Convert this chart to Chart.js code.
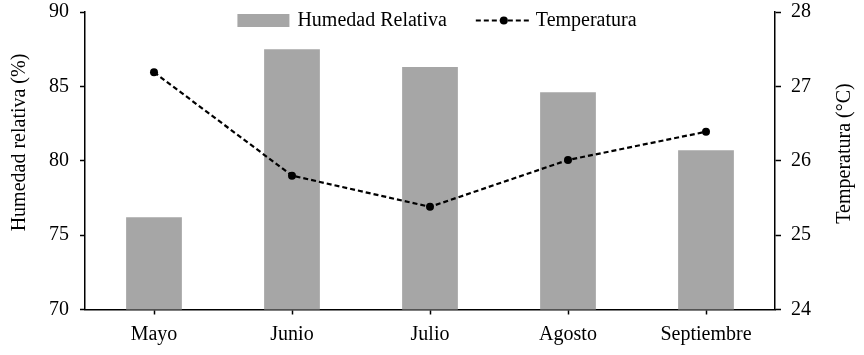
<!DOCTYPE html>
<html><head><meta charset="utf-8">
<style>html,body{margin:0;padding:0;background:#fff}#wrap{width:864px;height:355px}</style>
<script src="https://cdn.jsdelivr.net/npm/chart.js@4.4.1/dist/chart.umd.min.js"></script>
</head><body><div id="wrap"><canvas id="c" width="864" height="355"></canvas></div>
<script>
const categories = ['Mayo', 'Junio', 'Julio', 'Agosto', 'Septiembre'];
const humedad = [76.2, 87.5, 86.3, 84.6, 80.7];
const temperatura = [27.19, 25.80, 25.38, 26.01, 26.39];
const humLabel = 'Humedad Relativa';
const tempLabel = 'Temperatura';
const leftTitle = 'Humedad relativa (%)';
const rightTitle = 'Temperatura (°C)';

const FAMILY = '"Liberation Serif", "Times New Roman", serif';
const FSIZE = 20;
const FONT = FSIZE + 'px ' + FAMILY;
const BAR = '#a6a6a6';

const overlay = {
  id: 'overlay',
  afterDraw(chart) {
    const ctx = chart.ctx, ca = chart.chartArea;
    const ds = chart.data.datasets;
    ctx.save();
    ctx.font = FONT;
    ctx.fillStyle = '#000';
    ctx.textBaseline = 'middle';
    // legend
    const w1 = ctx.measureText(ds[0].label).width;
    const w2 = ctx.measureText(ds[1].label).width;
    const boxW = 52, boxH = 13, g1 = 8, gItems = 29, lineW = 56, g2 = 4;
    const total = boxW + g1 + w1 + gItems + lineW + g2 + w2;
    let x = (ca.left + ca.right) / 2 + 7 - total / 2;
    const yc = ca.top + 8.5;
    ctx.fillStyle = ds[0].backgroundColor;
    ctx.fillRect(x, yc - boxH / 2, boxW, boxH);
    x += boxW + g1;
    ctx.fillStyle = '#000';
    ctx.textAlign = 'left';
    ctx.fillText(ds[0].label, x, yc);
    x += w1 + gItems;
    ctx.strokeStyle = ds[1].borderColor;
    ctx.lineWidth = ds[1].borderWidth;
    ctx.setLineDash(ds[1].borderDash);
    ctx.beginPath();
    ctx.moveTo(x, yc); ctx.lineTo(x + lineW, yc);
    ctx.stroke();
    ctx.setLineDash([]);
    ctx.beginPath();
    ctx.arc(x + lineW / 2, yc, ds[1].pointRadius, 0, Math.PI * 2);
    ctx.fillStyle = ds[1].pointBackgroundColor;
    ctx.fill();
    x += lineW + g2;
    ctx.fillStyle = '#000';
    ctx.fillText(ds[1].label, x, yc);
    // axis titles
    ctx.textAlign = 'center';
    ctx.save();
    ctx.translate(19.3, 142.5);
    ctx.rotate(-Math.PI / 2);
    ctx.fillText(leftTitle, 0, 0);
    ctx.restore();
    ctx.save();
    ctx.translate(845, 153.5);
    ctx.rotate(-Math.PI / 2);
    ctx.fillText(rightTitle, 0, 0);
    ctx.restore();
    ctx.restore();
  }
};

function noPad(s) { s.paddingTop = 0; s.paddingBottom = 0; s.paddingLeft = 0; s.paddingRight = 0; }

new Chart(document.getElementById('c'), {
  data: {
    labels: categories,
    datasets: [
      {
        type: 'bar', label: humLabel, data: humedad, yAxisID: 'y',
        backgroundColor: BAR, borderWidth: 0,
        categoryPercentage: 1, barPercentage: 0.404, order: 2
      },
      {
        type: 'line', label: tempLabel, data: temperatura, yAxisID: 'y1',
        borderColor: '#000', borderWidth: 2.2, borderDash: [5, 3], tension: 0,
        pointRadius: 4, pointBackgroundColor: '#000', pointBorderWidth: 0,
        fill: false, order: 1
      }
    ]
  },
  options: {
    responsive: false,
    animation: false,
    events: [],
    layout: { padding: { top: 12, left: 0, right: 0, bottom: 0 } },
    plugins: { legend: { display: false }, tooltip: { enabled: false } },
    scales: {
      x: {
        position: 'bottom',
        offset: true,
        grid: { offset: false, drawOnChartArea: false, tickLength: 5, tickColor: '#000', tickWidth: 1.5 },
        border: { color: '#000', width: 1.5 },
        ticks: { color: '#000', font: { family: FAMILY, size: FSIZE }, padding: 8, maxRotation: 0 },
        afterFit(s) { s.height = 45.5; noPad(s); }
      },
      y: {
        position: 'left', min: 70, max: 90,
        grid: { drawOnChartArea: false, tickLength: 5, tickColor: '#000', tickWidth: 1.5 },
        border: { color: '#000', width: 1.5 },
        ticks: { stepSize: 5, color: '#000', font: { family: FAMILY, size: FSIZE }, padding: 11 },
        afterFit(s) { s.width = 85; noPad(s); }
      },
      y1: {
        position: 'right', min: 24, max: 28,
        grid: { drawOnChartArea: false, tickLength: 6, tickColor: '#000', tickWidth: 1.5 },
        border: { color: '#000', width: 1.5 },
        ticks: { stepSize: 1, color: '#000', font: { family: FAMILY, size: FSIZE }, padding: 10 },
        afterFit(s) { s.width = 89; noPad(s); }
      }
    }
  },
  plugins: [overlay]
});
</script>
</body></html>
